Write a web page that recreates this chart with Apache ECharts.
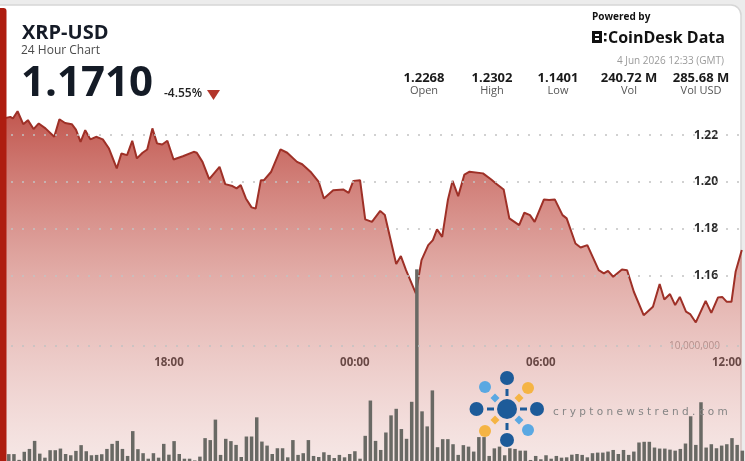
<!DOCTYPE html>
<html>
<head>
<meta charset="UTF-8">
<title>XRP-USD</title>
<script src="https://cdn.jsdelivr.net/npm/echarts@6.0.0/dist/echarts.min.js"></script>
<style>
  html, body { margin: 0; padding: 0; background: #ececec; }
  #main { width: 745px; height: 461px; }
</style>
</head>
<body>
<div id="main"></div>
<script>
// price path (GMT clock times, previous day from 12:33 onwards)
var priceTimes = ['12:33','12:53','12:58','13:07','13:18','13:27','13:38','13:48','14:01','14:18',
  '14:28','14:39','14:52','15:00','15:09','15:18','15:28','15:39','15:52','16:04',
  '16:19','16:28','16:39','16:49','16:58','17:09','17:18','17:28','17:37','17:47',
  '17:57','18:09','18:27','18:48','18:54','19:05','19:18','19:38','19:49','20:03',
  '20:11','20:19','20:29','20:40','20:48','20:58','21:04','21:18','21:36','21:49',
  '22:08','22:18','22:34','22:50','23:00','23:18','23:38','23:48','23:57','00:10',
  '00:20','00:33','00:49','00:58','01:20','01:29','01:39','01:58','02:09','02:22',
  '02:31','02:39','02:49','03:00','03:09','03:20','03:32','03:42','04:08','04:24',
  '04:33','04:48','04:59','05:18','05:28','05:39','05:48','06:06','06:16','06:27',
  '06:42','06:50','07:07','07:17','07:30','07:52','08:02','08:10','08:20','08:37',
  '08:47','09:00','09:19','09:37','09:50','09:59','10:10','10:20','10:29','10:41',
  '10:49','11:00','11:19','11:30','11:43','11:51','12:00','12:09','12:17','12:29'];
var priceValues = [1.2268,1.2278,1.2271,1.2302,1.2247,1.2264,1.2226,1.2250,1.2229,1.2193,
  1.2268,1.2252,1.2247,1.2224,1.2171,1.2221,1.2182,1.2193,1.2182,1.2143,
  1.2058,1.2122,1.2115,1.2176,1.2101,1.2125,1.2139,1.2229,1.2165,1.2160,
  1.2176,1.2096,1.2110,1.2129,1.2125,1.2086,1.2012,1.2065,1.1991,1.1983,
  1.1973,1.1987,1.1930,1.1892,1.1887,1.2008,1.2008,1.2044,1.2139,1.2125,
  1.2086,1.2076,1.2044,1.2001,1.1930,1.1965,1.1968,1.1954,1.2005,1.2008,
  1.1841,1.1830,1.1877,1.1859,1.1650,1.1684,1.1624,1.1525,1.1667,1.1731,
  1.1752,1.1798,1.1766,1.1923,1.2005,1.1940,1.2032,1.2044,1.2037,1.2011,
  1.1994,1.1968,1.1845,1.1816,1.1869,1.1859,1.1830,1.1926,1.1923,1.1926,
  1.1859,1.1845,1.1738,1.1721,1.1731,1.1624,1.1610,1.1621,1.1596,1.1627,
  1.1624,1.1532,1.1432,1.1468,1.1565,1.1499,1.1522,1.1475,1.1510,1.1447,
  1.1437,1.1401,1.1493,1.1442,1.1508,1.1510,1.1489,1.1489,1.1617,1.1710];

// 10-minute volume bars (millions), first bar 12:40 previous day
var volStart = '12:40';
var volStepMin = 10;
var volumes = [0.8,0.6,0.6,0.1,0.8,1.05,1.75,0.64,0.29,0.94,0.94,1.08,0.61,0.5,
  0.88,1.38,0.85,0.5,0.53,0.59,1.05,1.49,1.75,1.05,0.44,2.6,1.03,0.68,0.2,0.68,0.29,1.49,
  0.55,1.73,0.61,0.2,0.2,0.05,0.38,1.99,1.82,3.6,0.53,1.93,1.73,1.4,0.35,2.13,2.13,
  3.8,
  1.69,1.34,0.61,1.11,1.11,0.32,
  1.82,0.53,0.68,1.82,0.44,0.35,
  0.76,0.53,0.26,0.53,0.32,0.61,
  0.85,0.2,2.19,5.26,1.75,0.96,
  2.48,3.97,4.54,2.78,1.93,5.15,
  16.67,4.32,3.01,6.14,1.2,1.9,
  1.9,1.46,0.53,1.38,1.25,0.82,
  2.08,2.08,0.44,1.1,1.25,0.5,
  1.11,1.05,0.9,0.9,0.09,0.44,
  0.15,0.5,0.2,0.44,0.29,0.32,
  0.55,0.61,0.53,0.32,0.68,0.73,
  0.73,0.82,0.96,0.61,0.96,0.53,
  0.82,1.61,1.67,1.67,1.17,1.08,
  1.08,0.99,0.9,1.05,1.52,3.89,
  1.4,5.11,1.17,1.46,1.11,1.34,
  1.46,1.99,1.4,0.9];

var priceTicks = [1.16, 1.18, 1.20, 1.22];
var volTicks = [10];
var timeTicks = ['18:00', '00:00', '06:00', '12:00'];

var statValues = ['1.2268', '1.2302', '1.1401', '240.72 M', '285.68 M'];
var statLabels = ['Open', 'High', 'Low', 'Vol', 'Vol USD'];

var FONT = '"Open Sans", "DejaVu Sans", sans-serif';

// hours relative to midnight; times after 12:33 belong to the previous day
function toHours(t) {
    var p = t.split(':');
    var h = Number(p[0]) + Number(p[1]) / 60;
    return h >= 12.55 ? h - 24 : h;
}

var priceData = priceTimes.map(function (t, i) { return [toHours(t), priceValues[i]]; });
var volBase = toHours(volStart);
var volData = volumes.map(function (v, i) { return [volBase + i * volStepMin / 60, v]; });

var myChart = echarts.init(document.getElementById('main'));

var statX = [424, 492, 558, 629, 701];
var elements = [
    { type: 'rect', z: 0, shape: { x: -10, y: 5, width: 751, height: 480, r: 10 },
      style: { fill: '#fff', stroke: '#d6d6d6', lineWidth: 1.5 } },
    { type: 'rect', z: 100, shape: { x: -4, y: 8, width: 10.5, height: 470, r: 3 },
      style: { fill: '#ae1d10' } },
    { type: 'text', z: 100, x: 22, y: 33,
      style: { text: 'XRP-USD', font: 'bold 20px ' + FONT, fill: '#151b27', verticalAlign: 'middle' } },
    { type: 'text', z: 100, x: 21, y: 51,
      style: { text: '24 Hour Chart', font: '12px ' + FONT, fill: '#4a4a4a', verticalAlign: 'middle' } },
    { type: 'text', z: 100, x: 21, y: 84,
      style: { text: '1.1710', font: 'bold 42px ' + FONT, fill: '#141b26', verticalAlign: 'middle' } },
    { type: 'text', z: 100, x: 164, y: 94,
      style: { text: '-4.55%', font: '600 12px ' + FONT, fill: '#222', verticalAlign: 'middle' } },
    { type: 'polygon', z: 100, shape: { points: [[207, 90], [220, 90], [213.5, 100]] },
      style: { fill: '#b3362b' } },
    { type: 'text', z: 100, x: 592, y: 17,
      style: { text: 'Powered by', font: 'bold 10px ' + FONT, fill: '#111', verticalAlign: 'middle' } },
    { type: 'rect', z: 100, shape: { x: 592, y: 31, width: 10, height: 12 }, style: { fill: '#111' } },
    { type: 'rect', z: 101, shape: { x: 595, y: 34, width: 4, height: 2 }, style: { fill: '#fff' } },
    { type: 'rect', z: 101, shape: { x: 595, y: 38, width: 4, height: 2 }, style: { fill: '#fff' } },
    { type: 'rect', z: 100, shape: { x: 604, y: 33, width: 2.5, height: 2.5 }, style: { fill: '#111' } },
    { type: 'rect', z: 100, shape: { x: 604, y: 39, width: 2.5, height: 2.5 }, style: { fill: '#111' } },
    { type: 'text', z: 100, x: 608, y: 38,
      style: { text: 'CoinDesk Data', font: 'bold 16px ' + FONT, fill: '#111', verticalAlign: 'middle' } },
    { type: 'text', z: 100, x: 724, y: 61,
      style: { text: '4 Jun 2026 12:33 (GMT)', font: '10px ' + FONT, fill: '#9a9a9a', align: 'right', verticalAlign: 'middle' } }
];
statValues.forEach(function (v, i) {
    elements.push({ type: 'text', z: 100, x: statX[i], y: 78,
        style: { text: v, font: 'bold 13px ' + FONT, fill: '#1a1a1a', align: 'center', verticalAlign: 'middle' } });
    elements.push({ type: 'text', z: 100, x: statX[i], y: 91,
        style: { text: statLabels[i], font: '11px ' + FONT, fill: '#555', align: 'center', verticalAlign: 'middle' } });
});

// watermark logo
var dark = '#1d5b99', light = '#5aa8e2', orange = '#f5b444';
function circ(cx, cy, r, c) { return { type: 'circle', z: 110, shape: { cx: cx, cy: cy, r: r }, style: { fill: c } }; }
function diamond(cx, cy, s, c) {
    return { type: 'polygon', z: 110, shape: { points: [[cx, cy - s], [cx + s, cy], [cx, cy + s], [cx - s, cy]] }, style: { fill: c } };
}
elements.push(
    { type: 'rect', z: 110, shape: { x: 505.5, y: 389, width: 3, height: 7 }, style: { fill: dark } },
    { type: 'rect', z: 110, shape: { x: 505.5, y: 423, width: 3, height: 7 }, style: { fill: dark } },
    { type: 'rect', z: 110, shape: { x: 487, y: 407.5, width: 7, height: 3 }, style: { fill: dark } },
    { type: 'rect', z: 110, shape: { x: 520, y: 407.5, width: 7, height: 3 }, style: { fill: dark } },
    circ(507, 409, 10, dark), circ(507, 378, 7, dark), circ(507, 440, 7, dark),
    circ(476.5, 409, 7, dark), circ(537, 409, 7, dark),
    circ(485, 387, 6, light), circ(528, 430, 6, light),
    circ(528, 388, 6, orange), circ(485, 431, 6, orange),
    diamond(495, 398, 4.5, light), diamond(519, 420, 4.5, light),
    diamond(519, 398, 4.5, orange), diamond(495, 420, 4.5, orange),
    { type: 'text', z: 110, x: 553, y: 412,
      style: { text: 'c r y p t o n e w s t r e n d . c o m', font: '10.5px "DejaVu Sans"', fill: '#858585', verticalAlign: 'middle' } }
);

var gridDots = { type: [2, 9], color: '#c2c2c2', width: 1.5 };

var option = {
    animation: false,
    backgroundColor: '#ececec',
    grid: { left: -4, right: 3, top: 100, bottom: 0, containLabel: false },
    xAxis: {
        type: 'value',
        min: -11.45,
        max: 12.49,
        axisLine: { show: false },
        axisTick: { show: false },
        splitLine: { show: false },
        axisLabel: {
            inside: true,
            margin: 92,
            customValues: timeTicks.map(toHours),
            formatter: function (v) {
                var h = Math.round(((v % 24) + 24) % 24);
                return (h < 10 ? '0' : '') + h + ':00';
            },
            fontFamily: FONT, fontWeight: 'bold', fontSize: 11.5, color: '#222'
        }
    },
    yAxis: [{
        type: 'value',
        position: 'right',
        min: 1.081,
        max: 1.235,
        axisLine: { show: false },
        axisTick: { show: false },
        splitLine: { show: false },
        axisLabel: {
            inside: true,
            margin: 22,
            customValues: priceTicks,
            formatter: function (v) { return v.toFixed(2); },
            fontFamily: FONT, fontWeight: 'bold', fontSize: 12, color: '#2b2b2b',
            backgroundColor: '#fff', padding: [0, 2]
        }
    }, {
        type: 'value',
        position: 'right',
        min: 0,
        max: 31.4,
        axisLine: { show: false },
        axisTick: { show: false },
        splitLine: { show: false },
        axisLabel: {
            inside: true,
            margin: 22,
            customValues: volTicks,
            formatter: function (v) { return (v * 1e6).toLocaleString('en-US'); },
            fontFamily: FONT, fontSize: 10, color: '#a0a0a0'
        }
    }],
    graphic: { elements: elements },
    series: [{
        type: 'line',
        z: 2,
        data: priceData,
        symbol: 'none',
        lineStyle: { color: '#9e3027', width: 2 },
        areaStyle: {
            origin: 'start',
            opacity: 1,
            color: new echarts.graphic.LinearGradient(0, 0, 0, 1, [
                { offset: 0, color: 'rgba(178,45,35,0.8)' },
                { offset: 0.45, color: 'rgba(195,85,75,0.5)' },
                { offset: 1, color: 'rgba(225,175,170,0.3)' }
            ])
        },
        markLine: {
            silent: true,
            symbol: 'none',
            label: { show: false },
            lineStyle: gridDots,
            data: priceTicks.map(function (v) { return { yAxis: v }; })
        }
    }, {
        type: 'bar',
        z: 3,
        yAxisIndex: 1,
        data: volData,
        barWidth: 3.5,
        itemStyle: { color: '#696964' },
        markLine: {
            silent: true,
            symbol: 'none',
            label: { show: false },
            lineStyle: gridDots,
            data: volTicks.map(function (v) { return { yAxis: v }; })
        }
    }]
};

myChart.setOption(option);
</script>
</body>
</html>
